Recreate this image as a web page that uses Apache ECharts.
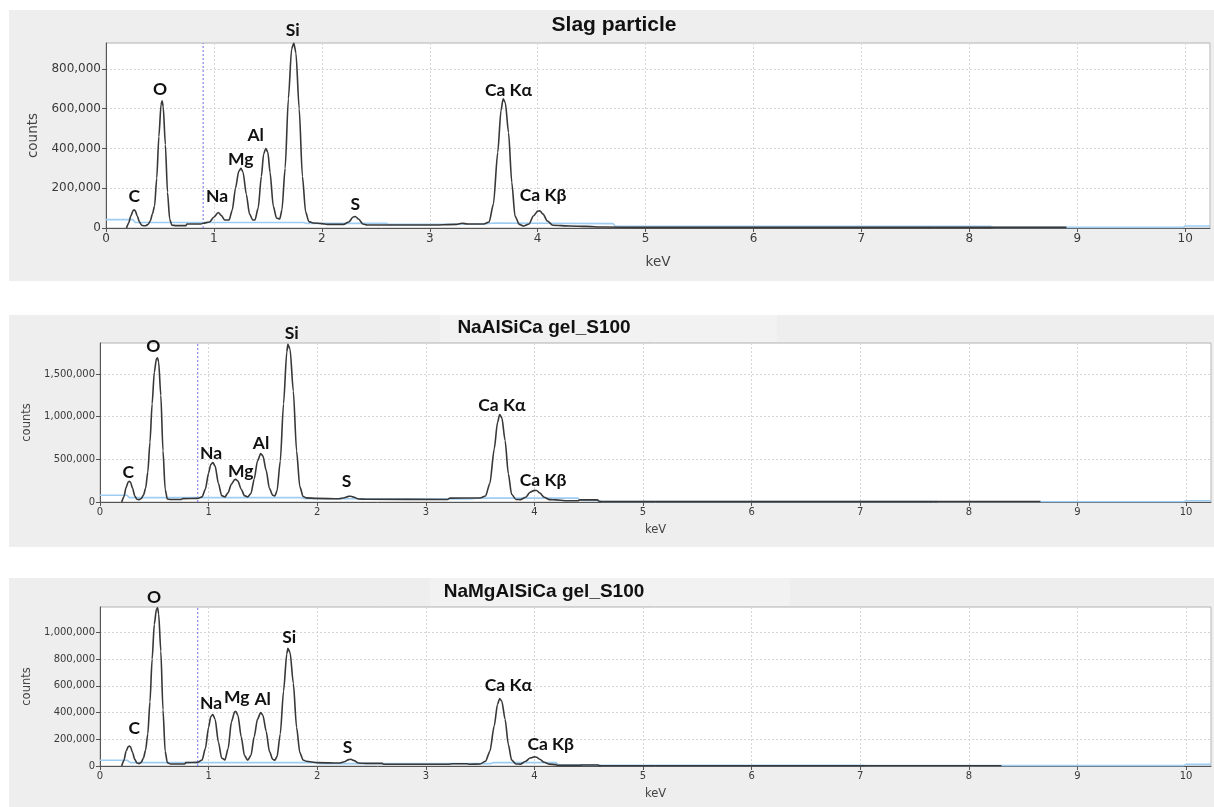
<!DOCTYPE html>
<html>
<head>
<meta charset="utf-8">
<script src="https://cdn.jsdelivr.net/npm/echarts@6/dist/echarts.min.js"></script>
<style>
html,body{margin:0;padding:0;background:#fff;}
#chart{width:1214px;height:807px;}
</style>
</head>
<body>
<div id="chart"></div>
<script>
// ---------- DATA (keV, counts in thousands) ----------
const panelTitles = ['Slag particle', 'NaAlSiCa gel_S100', 'NaMgAlSiCa gel_S100'];

const slagSpectrum = [
  [0.19,0],[0.21,25],[0.23,60],[0.25,86],[0.26,92],[0.27,88],[0.29,60],[0.31,30],[0.33,14],[0.35,11],
  [0.37,12],[0.39,18],[0.41,35],[0.43,70],[0.45,110],[0.47,250],[0.49,460],[0.51,620],[0.52,640],[0.53,610],
  [0.55,420],[0.57,180],[0.59,45],[0.61,14],[0.65,12],[0.74,12],[0.75,20],[0.88,20],[0.90,24],[0.96,30],
  [1.00,55],[1.04,78],[1.07,62],[1.10,40],[1.14,40],[1.17,90],[1.20,200],[1.23,285],[1.25,300],[1.27,280],
  [1.30,170],[1.33,70],[1.36,40],[1.38,40],[1.41,100],[1.44,260],[1.46,370],[1.48,400],[1.50,380],[1.52,280],
  [1.55,110],[1.58,50],[1.61,45],[1.63,90],[1.66,300],[1.69,650],[1.72,900],[1.74,930],[1.76,880],[1.79,600],
  [1.82,260],[1.85,80],[1.88,32],[1.92,25],[2.00,22],[2.05,18],[2.20,18],[2.25,30],[2.29,55],[2.31,58],
  [2.34,45],[2.38,20],[2.42,15],[3.00,15],[3.25,18],[3.30,24],[3.35,20],[3.50,20],[3.55,30],[3.59,120],
  [3.63,380],[3.66,590],[3.68,650],[3.70,630],[3.73,480],[3.76,230],[3.79,60],[3.83,18],[3.87,10],[3.92,20],
  [3.96,60],[4.00,85],[4.02,86],[4.05,70],[4.09,35],[4.14,14],[4.30,10],[4.45,8],[4.60,5],[5.00,3],[8.90,3]
];
const slagBackground = [
  [0,42],[0.25,42],[0.27,28],[1.83,28],[1.86,23],[2.60,23],[2.62,18],[3.50,20],[3.60,25],[4.70,22],
  [4.72,8],[8.20,8],[8.22,3],[9.98,3],[10.0,10],[10.23,10]
];

const naAlSpectrum = [
  [0.20,0],[0.22,60],[0.24,170],[0.26,235],[0.27,243],[0.28,235],[0.30,160],[0.32,70],[0.34,32],[0.36,28],
  [0.38,40],[0.40,80],[0.42,160],[0.44,350],[0.46,700],[0.48,1150],[0.50,1520],[0.52,1680],[0.53,1690],[0.54,1640],
  [0.56,1250],[0.58,600],[0.60,150],[0.62,35],[0.65,30],[0.75,30],[0.76,40],[0.90,42],[0.94,60],[0.97,150],
  [1.00,340],[1.02,440],[1.04,462],[1.06,420],[1.09,220],[1.12,75],[1.15,60],[1.18,110],[1.21,210],[1.24,262],
  [1.25,266],[1.27,245],[1.30,150],[1.33,75],[1.36,60],[1.39,100],[1.42,270],[1.45,480],[1.48,568],[1.50,540],
  [1.53,370],[1.56,160],[1.59,80],[1.61,70],[1.63,130],[1.66,480],[1.69,1150],[1.72,1760],[1.73,1847],[1.75,1790],
  [1.78,1300],[1.81,600],[1.84,180],[1.87,65],[1.90,48],[2.00,42],[2.20,38],[2.25,50],[2.29,66],[2.31,67],
  [2.34,55],[2.38,35],[2.45,32],[3.20,30],[3.22,45],[3.50,47],[3.55,70],[3.59,220],[3.63,620],[3.66,930],
  [3.68,1025],[3.70,990],[3.73,720],[3.76,330],[3.79,90],[3.83,30],[3.87,28],[3.92,55],[3.96,115],[4.00,136],
  [4.02,135],[4.05,105],[4.09,55],[4.14,28],[4.20,25],[4.28,15],[4.40,15],[4.42,25],[4.58,25],[4.60,5],[8.66,5]
];
const naAlBackground = [
  [0,79],[0.25,79],[0.27,51],[1.85,51],[1.88,40],[2.50,38],[3.40,35],[3.50,47],[4.40,45],[4.42,20],
  [4.60,15],[4.62,5],[7.70,5],[7.72,3],[9.98,3],[10.0,15],[10.23,15]
];

const naMgSpectrum = [
  [0.20,0],[0.22,40],[0.24,110],[0.26,145],[0.27,150],[0.28,145],[0.30,100],[0.32,50],[0.34,22],[0.36,18],
  [0.38,28],[0.40,60],[0.42,120],[0.44,240],[0.46,480],[0.48,800],[0.50,1060],[0.52,1175],[0.53,1184],[0.54,1140],
  [0.56,860],[0.58,420],[0.60,110],[0.62,25],[0.65,15],[0.78,15],[0.79,25],[0.90,27],[0.94,45],[0.97,130],
  [1.00,290],[1.02,370],[1.04,385],[1.06,350],[1.09,180],[1.12,60],[1.15,45],[1.18,130],[1.21,330],[1.24,405],
  [1.25,410],[1.27,380],[1.30,220],[1.33,80],[1.36,43],[1.39,80],[1.42,220],[1.45,350],[1.48,400],[1.50,380],
  [1.53,260],[1.56,110],[1.59,50],[1.61,43],[1.63,70],[1.66,240],[1.69,560],[1.72,840],[1.73,880],[1.75,850],
  [1.78,620],[1.81,290],[1.84,100],[1.87,45],[1.90,35],[2.00,25],[2.20,22],[2.25,32],[2.29,48],[2.31,50],
  [2.34,40],[2.38,22],[2.45,20],[2.60,20],[2.61,13],[3.20,13],[3.25,17],[3.38,17],[3.40,13],[3.50,15],
  [3.55,35],[3.59,110],[3.63,300],[3.66,460],[3.68,505],[3.70,485],[3.73,350],[3.76,160],[3.79,45],[3.83,15],
  [3.87,14],[3.92,35],[3.96,60],[4.00,68],[4.02,66],[4.05,50],[4.09,28],[4.14,14],[4.20,10],[4.21,5],
  [4.42,5],[4.44,8],[4.58,8],[4.60,2],[8.30,2]
];
const naMgBackground = [
  [0,43],[0.25,43],[0.28,25],[2.00,25],[2.02,18],[3.60,18],[3.62,25],[4.20,25],[4.22,10],[4.60,8],
  [4.62,5],[7.03,5],[7.05,3],[9.98,3],[10.0,12],[10.23,12]
];

// peak labels: [text, keV, counts(k)] – label centre position
const peakLabelNames = ['C','O','Na','Mg','Al','Si','S','Ca Kα','Ca Kβ'];
const slagLabelPos  = [[0.262,158],[0.50,697],[1.03,158],[1.248,346],[1.387,468],[1.73,994],[2.31,117],[3.73,693],[4.05,162]];
const naAlLabelPos  = [[0.26,352],[0.49,1819],[1.022,575],[1.295,360],[1.483,685],[1.765,1977],[2.27,243],[3.70,1135],[4.08,255]];
const naMgLabelPos  = [[0.316,280],[0.497,1261],[1.022,472],[1.258,517],[1.498,497],[1.743,962],[2.28,142],[3.76,605],[4.15,160]];

// axis settings
const xMax = 10.23;
const xInterval = 1;
const yMaxes = [930000, 1863000, 1190000];
const yIntervals = [200000, 500000, 200000];
const markerKeV = 0.9;

// ---------- CHART ----------
const chart = echarts.init(document.getElementById('chart'));
const spectra = [slagSpectrum, naAlSpectrum, naMgSpectrum];
const backgrounds = [slagBackground, naAlBackground, naMgBackground];
const labelPos = [slagLabelPos, naAlLabelPos, naMgLabelPos];
const toCounts = arr => arr.map(p => [p[0], p[1] * 1000]);

const grids = [
  {left:106, top:43, width:1104, height:185},
  {left:100, top:343, width:1111, height:159},
  {left:100, top:607, width:1111, height:159}
];
const tickFont = [12, 10, 10];
const nameFont = [13.5, 11.5, 11.5];
const yNameGap = [66, 62, 62];
const xNameGap = [27, 22, 22];

const panels = [
  {x:9, y:10, w:1205, h:271},
  {x:9, y:315, w:1205, h:232},
  {x:9, y:578, w:1205, h:229}
];
const titleCfg = [
  {x:614, y:25, size:21},
  {x:544, y:328, size:19},
  {x:544, y:592, size:19}
];

const fmt = v => Math.round(v).toLocaleString('en-US');

const option = {
  animation: false,
  backgroundColor: '#ffffff',
  grid: grids.map(g => Object.assign({show:true, backgroundColor:'#ffffff', borderColor:'#b4b4b4', borderWidth:1}, g)),
  xAxis: grids.map((g, i) => ({
    type:'value', gridIndex:i, min:0, max:xMax, interval:xInterval,
    name:'keV', nameLocation:'middle', nameGap:xNameGap[i],
    nameTextStyle:{fontFamily:'DejaVu Sans', fontSize:nameFont[i], color:'#444'},
    axisLine:{show:true, onZero:false, lineStyle:{color:'#555', width:1}},
    axisTick:{show:true, length:4, lineStyle:{color:'#555'}},
    axisLabel:{fontFamily:'DejaVu Sans', fontSize:tickFont[i], color:'#3a3a3a', margin:5, showMaxLabel:false,
      formatter: v => (Math.abs(v - Math.round(v)) < 1e-9 ? String(Math.round(v)) : '')},
    splitLine:{show:true, lineStyle:{color:'#d6d6d6', type:[2,2], width:1}}
  })),
  yAxis: grids.map((g, i) => ({
    type:'value', gridIndex:i, min:0, max:yMaxes[i], interval:yIntervals[i],
    name:'counts', nameLocation:'middle', nameGap:yNameGap[i],
    nameTextStyle:{fontFamily:'DejaVu Sans', fontSize:nameFont[i], color:'#444'},
    axisLine:{show:true, lineStyle:{color:'#555', width:1}},
    axisTick:{show:true, length:4, lineStyle:{color:'#555'}},
    axisLabel:{fontFamily:'DejaVu Sans', fontSize:tickFont[i], color:'#3a3a3a', margin:5, showMaxLabel:false,
      formatter: v => (v % yIntervals[i] === 0 ? fmt(v) : '')},
    splitLine:{show:true, lineStyle:{color:'#d6d6d6', type:[2,2], width:1}}
  })),
  series: []
};

for (let i = 0; i < 3; i++) {
  // vertical marker at 0.9 keV, drawn as a two-point line through the axes
  option.series.push({
    type:'line', xAxisIndex:i, yAxisIndex:i,
    data: [[markerKeV, 0], [markerKeV, yMaxes[i]]],
    showSymbol:false, symbol:'none', silent:true,
    lineStyle:{color:'#6f6ff2', width:1, type:[2,2]}, z:2
  });
  option.series.push({
    type:'line', xAxisIndex:i, yAxisIndex:i, data: toCounts(backgrounds[i]),
    showSymbol:false, symbol:'none', silent:true,
    lineStyle:{color:'#9fcdf2', width:1.6}, z:3
  });
  option.series.push({
    type:'line', xAxisIndex:i, yAxisIndex:i, data: toCounts(spectra[i]),
    showSymbol:false, symbol:'none', silent:true, smooth:0.25, smoothMonotone:'x',
    lineStyle:{color:'#383838', width:1.6}, z:4
  });
}

chart.setOption(option);

// graphics: panel backgrounds, title boxes, titles, peak labels
const graphics = [];
panels.forEach(p => graphics.push({
  type:'rect', z:-10, silent:true,
  shape:{x:p.x, y:p.y, width:p.w, height:p.h}, style:{fill:'#eeeeee'}
}));
graphics.push({type:'rect', z:-9, silent:true, shape:{x:440, y:315, width:337, height:27}, style:{fill:'#f2f2f2'}});
graphics.push({type:'rect', z:-9, silent:true, shape:{x:430, y:578, width:360, height:28}, style:{fill:'#f2f2f2'}});
titleCfg.forEach((t, i) => graphics.push({
  type:'text', z:10, silent:true, x:t.x, y:t.y,
  style:{text:panelTitles[i], font:'bold ' + t.size + 'px "Liberation Sans", Arial, sans-serif',
    fill:'#111', align:'center', verticalAlign:'middle'}
}));
for (let i = 0; i < 3; i++) {
  labelPos[i].forEach((pos, k) => {
    const px = chart.convertToPixel({gridIndex:i}, [pos[0], pos[1] * 1000]);
    graphics.push({
      type:'text', z:10, silent:true, x:px[0], y:px[1],
      style:{text:peakLabelNames[k], font:'bold 17.5px Lato, "Open Sans", sans-serif',
        fill:'#111', align:'center', verticalAlign:'middle'}
    });
  });
}
chart.setOption({graphic: graphics});
</script>
</body>
</html>
